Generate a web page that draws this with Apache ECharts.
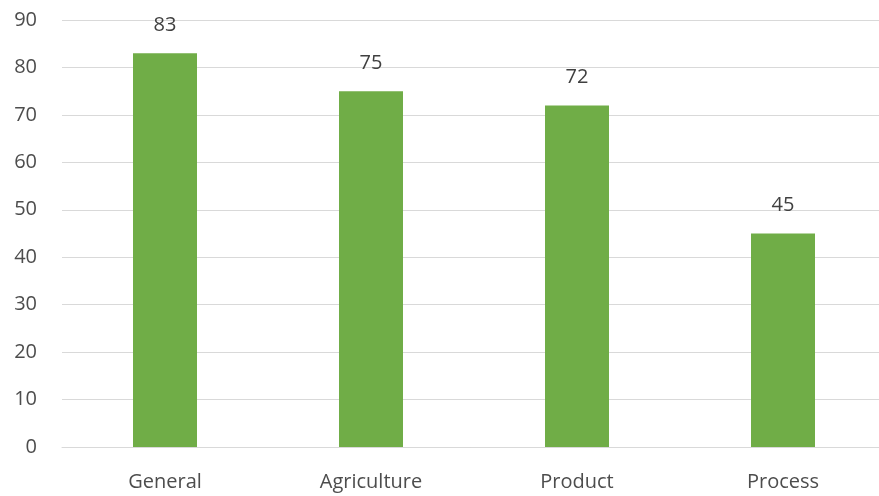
<!DOCTYPE html>
<html>
<head>
<meta charset="utf-8">
<script src="https://cdn.jsdelivr.net/npm/echarts@6/dist/echarts.min.js"></script>
<style>html,body{margin:0;padding:0;background:#fff;overflow:hidden}#c{width:879px;height:496px}</style>
</head>
<body>
<div id="c"></div>
<script>
const categories = ["General", "Agriculture", "Product", "Process"];
const values = [83, 75, 72, 45];
const yTicks = [0, 10, 20, 30, 40, 50, 60, 70, 80, 90];

const chart = echarts.init(document.getElementById('c'), null, {renderer: 'canvas'});
chart.setOption({
  animation: false,
  backgroundColor: '#ffffff',
  textStyle: {fontFamily: 'Open Sans'},
  grid: {left: 62, width: 824, top: 20, bottom: 49, containLabel: false, outerBoundsMode: 'none'},
  xAxis: {
    type: 'category',
    data: categories,
    axisLine: {show: true, lineStyle: {color: '#d9d9d9', width: 1}},
    axisTick: {show: false},
    axisLabel: {color: '#4d4d4d', fontSize: 20, margin: 25, fontFamily: 'Open Sans'}
  },
  yAxis: {
    type: 'value',
    min: yTicks[0],
    max: yTicks[yTicks.length - 1],
    interval: 10,
    axisLine: {show: false},
    axisTick: {show: false},
    splitLine: {lineStyle: {color: '#d9d9d9', width: 1}},
    axisLabel: {color: '#4d4d4d', fontSize: 20, margin: 25, fontFamily: 'Open Sans'}
  },
  series: [{
    type: 'bar',
    data: values,
    barWidth: 64,
    itemStyle: {color: '#70ad47'},
    label: {show: true, position: 'top', distance: 18, color: '#404040', fontSize: 20, fontFamily: 'Open Sans'}
  }]
});
</script>
</body>
</html>
